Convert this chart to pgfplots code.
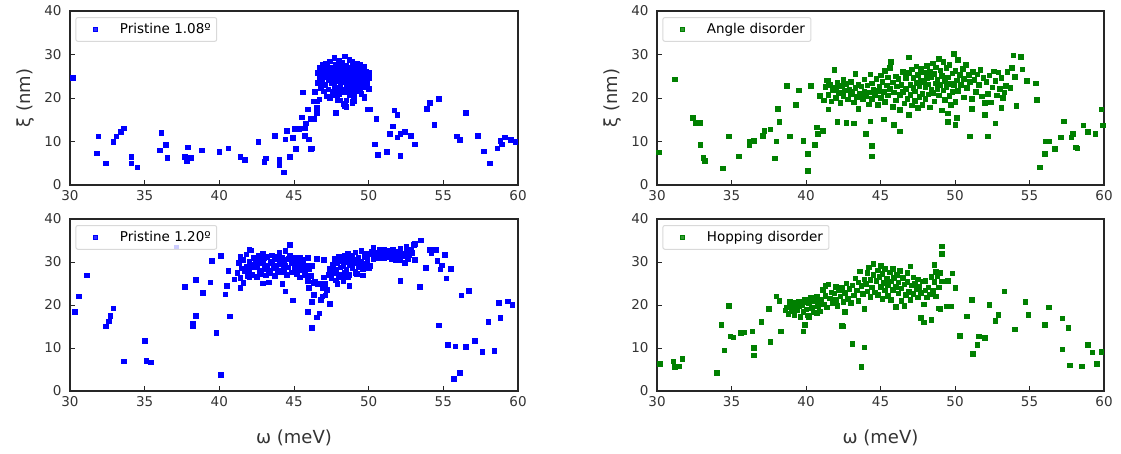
\documentclass[border=0pt]{standalone}
\usepackage{fontspec}
\setmainfont{DejaVu Sans}
\usepackage{pgfplots}
\usepackage{pgfplotstable}
\pgfplotsset{compat=1.18}
\definecolor{mblue}{RGB}{0,0,255}
\definecolor{mgreen}{RGB}{0,128,0}

\pgfplotstableread[row sep=\\]{x y\\
30.2 24.6\\ 31.8 7.3\\ 31.9 11.2\\ 32.4 5.0\\ 32.9 10.0\\ 33.1 11.2\\ 33.4 12.2\\ 33.6 13.1\\ 34.1 6.5\\ 34.1 5.0\\
34.5 4.1\\ 36.0 8.0\\ 36.1 12.0\\ 36.4 9.2\\ 36.5 6.3\\ 37.7 6.5\\ 37.8 5.6\\ 37.9 8.7\\ 38.1 6.3\\ 38.8 8.0\\
40.0 7.6\\ 40.6 8.5\\ 41.4 6.5\\ 41.7 5.8\\ 42.6 10.0\\ 43.0 5.3\\ 43.1 6.2\\ 43.7 11.4\\ 44.0 5.8\\ 44.0 4.6\\
44.3 2.9\\ 44.4 10.5\\ 44.5 12.5\\ 44.7 6.5\\ 44.9 10.9\\ 45.0 12.9\\ 45.1 8.3\\ 45.3 12.9\\ 45.5 15.6\\ 45.6 21.3\\
45.7 11.4\\ 45.7 13.1\\ 45.8 14.2\\ 45.9 17.4\\ 46.0 10.5\\ 46.1 8.4\\ 46.1 15.3\\ 46.2 8.5\\ 46.3 15.2\\ 46.3 19.3\\
46.4 21.5\\ 46.5 19.3\\ 46.5 17.8\\ 46.5 16.6\\ 46.7 19.7\\ 47.8 16.6\\ 48.1 19.5\\ 48.4 18.2\\ 48.5 19.5\\ 48.9 18.9\\
49.7 20.1\\ 49.9 17.4\\ 50.1 17.4\\ 50.4 9.4\\ 50.5 15.2\\ 50.6 7.0\\ 51.2 7.6\\ 51.4 11.8\\ 51.6 13.5\\ 51.7 17.2\\
51.9 16.1\\ 51.9 11.0\\ 52.1 11.8\\ 52.1 6.8\\ 52.4 12.2\\ 52.8 11.4\\ 53.1 9.4\\ 53.9 17.6\\ 54.1 18.9\\ 54.4 13.9\\
54.7 19.9\\ 55.9 11.2\\ 56.1 10.4\\ 56.5 16.6\\ 57.3 11.4\\ 57.7 7.8\\ 58.1 5.0\\ 58.6 8.5\\ 58.8 10.2\\ 58.9 9.4\\
59.1 11.0\\ 59.5 10.4\\ 59.8 10.0\\
46.6 25.8\\ 46.6 23.5\\ 46.7 24.6\\ 46.7 26.9\\ 46.8 22.4\\ 46.8 25.2\\ 46.9 27.6\\ 46.9 23.8\\ 47.0 24.9\\ 47.0 21.6\\
47.0 26.3\\ 47.1 28.0\\ 47.1 23.1\\ 47.2 25.5\\ 47.2 20.4\\ 47.2 27.2\\ 47.3 24.2\\ 47.3 22.0\\ 47.4 26.0\\ 47.4 28.5\\
47.4 20.1\\ 47.5 23.4\\ 47.5 25.1\\ 47.5 27.0\\ 47.6 21.5\\ 47.6 24.5\\ 47.6 26.6\\ 47.7 29.3\\ 47.7 22.8\\ 47.7 25.8\\
47.8 23.9\\ 47.8 27.7\\ 47.8 20.6\\ 47.9 25.0\\ 47.9 22.3\\ 47.9 26.4\\ 48.0 28.6\\ 48.0 24.1\\ 48.0 21.0\\ 48.0 25.7\\
48.1 23.2\\ 48.1 27.1\\ 48.1 26.0\\ 48.2 24.6\\ 48.2 22.0\\ 48.2 28.1\\ 48.3 25.3\\ 48.3 23.6\\ 48.3 26.8\\ 48.4 29.6\\
48.4 21.4\\ 48.4 24.9\\ 48.5 27.5\\ 48.5 23.0\\ 48.5 25.9\\ 48.6 22.4\\ 48.6 24.3\\ 48.6 26.5\\ 48.7 28.8\\ 48.7 20.8\\
48.7 25.4\\ 48.8 23.7\\ 48.8 27.0\\ 48.8 21.9\\ 48.9 24.8\\ 48.9 26.2\\ 48.9 28.3\\ 49.0 22.6\\ 49.0 25.6\\ 49.0 20.5\\
49.1 23.9\\ 49.1 27.4\\ 49.1 24.6\\ 49.2 26.0\\ 49.2 21.7\\ 49.2 28.0\\ 49.3 23.3\\ 49.3 25.2\\ 49.3 26.8\\ 49.4 22.1\\
49.4 24.5\\ 49.4 27.7\\ 49.5 23.6\\ 49.5 25.9\\ 49.5 21.0\\ 49.6 24.9\\ 49.6 26.6\\ 49.6 22.7\\ 49.7 25.4\\ 49.7 23.9\\
49.7 27.2\\ 49.8 24.2\\ 49.8 22.5\\ 49.8 26.0\\ 49.9 25.0\\ 49.9 23.3\\ 50.0 24.6\\ 50.0 22.1\\ 50.0 25.8\\ 49.7 20.3\\
48.3 18.7\\ 48.5 18.0\\ 49.0 19.4\\ 47.9 19.6\\ 48.9 19.2\\
}\tA

\pgfplotstableread[row sep=\\]{x y\\
30.3 18.5\\ 30.6 22.0\\ 31.1 26.9\\ 32.4 15.1\\ 32.6 16.2\\ 32.7 17.5\\ 32.9 19.3\\ 33.6 6.9\\ 35.0 11.7\\ 35.1 7.0\\
35.4 6.7\\ 37.1 33.4\\ 37.7 24.2\\ 38.2 15.1\\ 38.2 15.7\\ 38.4 17.5\\ 38.4 25.9\\ 38.9 22.9\\ 39.4 25.3\\ 39.5 30.3\\
39.8 13.6\\ 40.1 31.4\\ 40.1 3.8\\ 40.4 22.5\\ 40.5 24.5\\ 40.6 28.0\\ 40.7 17.4\\ 41.0 26.0\\ 41.4 24.0\\ 42.0 26.5\\
42.9 25.1\\ 43.3 25.3\\ 44.2 25.0\\ 44.4 23.2\\ 44.9 21.1\\ 44.7 34.0\\ 42.0 33.0\\ 45.9 18.5\\ 46.2 14.7\\ 46.2 20.8\\
46.3 22.4\\ 46.5 17.2\\ 46.7 18.1\\ 46.8 21.2\\ 46.9 22.0\\ 47.1 22.3\\ 47.4 20.3\\ 46.5 30.7\\ 47.0 30.5\\ 48.7 24.5\\
49.1 27.4\\ 52.1 25.7\\ 53.4 24.2\\ 53.5 35.1\\ 53.1 34.3\\ 53.8 28.7\\ 54.1 32.8\\ 54.2 32.0\\ 54.5 32.8\\ 54.6 30.3\\
54.7 15.3\\ 54.8 28.3\\ 54.9 29.3\\ 55.1 31.7\\ 55.2 26.2\\ 55.3 10.7\\ 55.5 28.4\\ 55.7 2.9\\ 55.8 10.4\\ 56.1 4.2\\
56.2 22.3\\ 56.5 10.3\\ 56.7 23.3\\ 57.1 11.7\\ 57.6 9.2\\ 58.0 16.1\\ 58.4 9.4\\ 58.7 20.6\\ 58.8 17.1\\ 59.3 20.9\\
59.6 20.1\\
41.2 27.5\\ 41.3 29.8\\ 41.4 31.2\\ 41.4 26.3\\ 41.5 28.6\\ 41.6 30.5\\ 41.6 25.2\\ 41.7 27.9\\ 41.8 31.8\\ 41.8 29.0\\
41.9 26.8\\ 42.0 30.1\\ 42.0 28.2\\ 42.1 32.7\\ 42.1 29.5\\ 42.2 27.0\\ 42.3 31.0\\ 42.3 28.8\\ 42.4 30.3\\ 42.5 26.6\\
42.5 29.2\\ 42.6 31.5\\ 42.7 28.0\\ 42.7 30.6\\ 42.8 27.3\\ 42.9 29.7\\ 42.9 31.9\\ 43.0 28.5\\ 43.0 30.9\\ 43.1 26.9\\
43.2 29.3\\ 43.2 31.3\\ 43.3 28.1\\ 43.4 30.2\\ 43.4 27.4\\ 43.5 29.8\\ 43.5 31.6\\ 43.6 28.6\\ 43.7 30.7\\ 43.7 26.8\\
43.8 29.1\\ 43.9 31.2\\ 43.9 28.0\\ 44.0 30.0\\ 44.0 32.1\\ 44.1 27.7\\ 44.1 29.6\\ 44.2 31.0\\ 44.3 28.4\\ 44.3 30.5\\
44.4 32.6\\ 44.4 29.3\\ 44.5 27.1\\ 44.6 30.8\\ 44.6 28.8\\ 44.7 31.6\\ 44.8 29.9\\ 44.8 27.6\\ 44.9 30.4\\ 45.0 28.5\\
45.0 31.0\\ 45.1 29.4\\ 45.2 27.3\\ 45.2 30.2\\ 45.3 28.7\\ 45.4 31.1\\ 45.4 26.5\\ 45.5 29.6\\ 45.6 28.2\\ 45.6 30.6\\
45.7 27.0\\ 45.8 29.3\\ 45.9 31.0\\ 45.9 25.6\\ 46.0 28.5\\ 46.1 26.8\\ 46.2 29.2\\ 46.3 25.2\\ 46.0 24.0\\ 46.4 25.4\\
46.6 24.8\\ 46.8 25.0\\ 46.9 24.0\\ 47.0 26.5\\ 47.1 25.0\\ 47.2 23.5\\
47.3 27.0\\ 47.4 28.5\\ 47.5 26.2\\ 47.6 29.5\\ 47.6 27.5\\ 47.7 30.8\\ 47.8 28.2\\ 47.8 25.8\\ 47.9 29.8\\ 48.0 27.0\\
48.0 31.2\\ 48.1 28.8\\ 48.2 26.6\\ 48.2 30.2\\ 48.3 29.0\\ 48.4 31.5\\ 48.4 27.6\\ 48.5 30.0\\ 48.5 28.3\\ 48.6 32.0\\
48.7 29.4\\ 48.7 27.0\\ 48.8 30.7\\ 48.9 28.6\\ 48.9 31.4\\ 49.0 29.8\\ 49.1 27.9\\ 49.1 32.3\\ 49.2 30.5\\ 49.3 28.8\\
49.3 31.0\\ 49.4 29.5\\ 49.5 32.6\\ 49.5 30.2\\ 49.6 28.4\\ 49.7 31.3\\ 49.8 29.7\\ 49.8 32.0\\ 49.9 30.6\\ 50.0 28.6\\
50.0 31.8\\ 50.1 29.2\\ 50.2 32.4\\ 50.3 30.8\\ 50.3 33.4\\ 50.4 31.5\\ 50.5 32.2\\ 50.6 31.0\\ 50.7 32.8\\ 50.8 31.6\\
50.9 32.3\\ 51.0 30.9\\ 51.0 33.0\\ 51.1 31.9\\ 51.2 32.6\\ 51.3 31.3\\ 51.4 32.1\\ 51.5 30.8\\ 51.6 32.9\\ 51.7 31.6\\
51.8 30.5\\ 51.9 32.4\\ 52.0 31.2\\ 52.1 33.1\\ 52.1 30.4\\ 52.2 32.0\\ 52.3 31.4\\ 52.4 29.8\\ 52.5 33.6\\ 52.5 32.5\\
52.6 30.8\\ 52.7 31.7\\ 52.8 33.0\\ 52.9 32.2\\ 53.0 34.0\\ 53.1 30.6\\ 48.6 26.5\\ 49.2 27.3\\ 49.6 26.9\\ 48.3 25.5\\
47.9 24.9\\
}\tB

\pgfplotstableread[row sep=\\]{x y\\
30.1 7.5\\ 31.2 24.3\\ 32.4 15.5\\ 32.6 14.3\\ 32.9 14.3\\ 32.9 9.3\\ 33.1 6.3\\ 33.2 5.6\\ 34.4 3.9\\ 34.8 11.2\\
35.5 6.6\\ 36.2 9.3\\ 36.2 9.9\\ 36.5 10.2\\ 37.1 11.4\\ 37.2 12.5\\ 37.6 12.8\\ 37.9 6.2\\ 38.0 10.1\\ 38.1 17.6\\
38.2 14.5\\ 38.7 22.8\\ 38.9 11.2\\ 39.3 18.4\\ 39.5 21.8\\ 39.8 10.2\\ 40.1 7.2\\ 40.1 3.3\\ 40.3 22.8\\ 40.6 9.3\\
40.7 13.3\\ 40.8 11.8\\ 40.9 20.5\\ 41.1 12.5\\ 41.5 17.4\\ 41.5 24.0\\ 42.1 14.5\\ 42.7 14.3\\ 43.2 14.2\\ 44.0 11.8\\
44.4 9.1\\ 44.4 6.6\\ 44.3 14.7\\ 45.2 15.1\\ 45.9 13.8\\ 46.3 12.4\\ 46.9 29.4\\ 49.9 30.2\\ 50.0 13.9\\ 50.1 15.5\\
49.5 14.5\\ 51.0 11.2\\ 51.1 17.6\\ 52.0 16.2\\ 52.2 11.2\\ 52.7 14.2\\ 53.1 17.8\\ 53.2 20.1\\ 53.9 29.8\\ 54.4 29.5\\
54.1 18.2\\ 54.5 26.6\\ 54.8 24.0\\ 55.4 23.4\\ 55.5 19.6\\ 55.7 4.1\\ 56.0 7.2\\ 56.1 10.1\\ 56.3 10.1\\ 56.7 8.3\\
57.3 14.7\\ 57.1 11.0\\ 57.8 11.0\\ 57.9 11.8\\ 58.1 8.7\\ 58.2 8.5\\ 58.6 13.7\\ 58.9 12.2\\ 59.4 11.8\\ 59.8 17.4\\
59.9 13.7\\
41.2 19.5\\ 41.3 22.6\\ 41.4 24.1\\ 41.5 20.8\\ 41.6 23.0\\ 41.7 19.3\\ 41.8 21.9\\ 41.9 26.5\\ 42.0 22.3\\ 42.0 20.0\\
42.1 23.5\\ 42.2 21.2\\ 42.3 18.9\\ 42.4 22.8\\ 42.5 24.2\\ 42.5 20.5\\ 42.6 21.8\\ 42.7 23.3\\ 42.8 19.7\\ 42.9 22.0\\
43.0 20.9\\ 43.0 23.8\\ 43.1 21.5\\ 43.2 19.0\\ 43.3 25.6\\ 43.3 22.4\\ 43.4 20.3\\ 43.5 17.5\\ 43.5 23.0\\ 43.6 21.1\\
43.7 22.7\\ 43.8 19.8\\ 43.9 24.3\\ 43.9 21.6\\ 44.0 20.4\\ 44.1 22.9\\ 44.2 18.6\\ 44.2 21.3\\ 44.3 25.5\\ 44.4 23.4\\
44.4 19.9\\ 44.5 22.0\\ 44.6 20.8\\ 44.7 24.4\\ 44.8 21.7\\ 44.8 18.5\\ 44.9 22.6\\ 45.0 25.2\\ 45.0 20.1\\ 45.1 23.7\\
45.2 21.4\\ 45.3 19.2\\ 45.3 26.3\\ 45.4 22.9\\ 45.5 24.8\\ 45.5 20.6\\ 45.6 27.0\\ 45.6 22.1\\ 45.7 28.3\\ 45.8 23.6\\
45.8 18.0\\ 45.9 21.3\\ 46.0 25.0\\ 46.0 19.5\\ 46.1 22.7\\ 46.2 24.4\\ 46.3 20.7\\ 46.3 17.3\\ 46.4 23.1\\ 46.5 26.0\\
46.5 21.5\\ 46.6 18.8\\ 46.7 24.6\\ 46.7 22.2\\ 46.8 19.9\\ 46.9 25.8\\ 46.9 16.2\\ 47.0 23.0\\ 47.0 20.8\\ 47.1 26.6\\
47.1 18.3\\ 47.2 22.4\\ 47.2 24.7\\ 47.3 19.4\\ 47.3 21.6\\ 47.4 27.3\\ 47.4 23.5\\ 47.5 17.7\\ 47.5 25.4\\ 47.6 20.3\\
47.6 22.8\\ 47.7 24.1\\ 47.7 26.8\\ 47.8 21.0\\ 47.8 18.5\\ 47.9 23.7\\ 47.9 25.9\\ 48.0 19.8\\ 48.0 22.5\\ 48.1 27.4\\
48.1 24.6\\ 48.2 20.9\\ 48.2 23.2\\ 48.3 26.1\\ 48.3 17.9\\ 48.4 22.0\\ 48.4 24.9\\ 48.5 28.0\\ 48.5 21.2\\ 48.6 25.6\\
48.6 19.3\\ 48.7 23.4\\ 48.7 27.1\\ 48.8 22.2\\ 48.8 24.3\\ 48.9 29.0\\ 48.9 20.6\\ 49.0 26.4\\ 49.0 23.0\\ 49.1 17.2\\
49.1 25.1\\ 49.2 21.8\\ 49.2 28.4\\ 49.3 24.0\\ 49.3 19.6\\ 49.4 26.9\\ 49.4 22.6\\ 49.5 16.5\\ 49.5 24.8\\ 49.6 20.5\\
49.6 27.6\\ 49.7 23.3\\ 49.7 18.4\\ 49.8 25.7\\ 49.8 21.4\\ 49.9 22.9\\ 50.0 26.3\\ 50.0 19.2\\ 50.1 24.1\\ 50.2 28.8\\
50.2 21.7\\ 50.3 25.3\\ 50.4 23.0\\ 50.5 26.8\\ 50.6 20.2\\ 50.6 24.5\\ 50.7 27.6\\ 50.8 22.3\\ 50.9 25.4\\ 51.0 23.7\\
51.1 19.8\\ 51.2 26.0\\ 51.3 24.2\\ 51.4 21.5\\ 51.5 25.5\\ 51.6 23.1\\ 51.7 26.5\\ 51.8 20.4\\ 51.9 24.6\\ 52.0 18.9\\
52.1 23.8\\ 52.2 21.0\\ 52.3 25.2\\ 52.4 19.0\\ 52.5 22.5\\ 52.6 26.2\\ 52.7 24.0\\ 52.8 20.6\\ 52.9 25.9\\ 53.0 22.2\\
53.1 24.7\\ 53.3 21.3\\ 53.4 22.8\\ 53.5 26.0\\ 53.7 22.4\\ 53.8 27.0\\ 54.0 24.9\\
}\tC

\pgfplotstableread[row sep=\\]{x y\\
30.2 6.3\\ 31.1 6.9\\ 31.2 5.6\\ 31.5 5.8\\ 31.7 7.5\\ 34.0 4.2\\ 34.3 15.4\\ 34.5 9.5\\ 34.8 19.8\\ 34.9 12.7\\
35.1 12.5\\ 35.6 13.5\\ 35.8 13.7\\ 36.4 13.9\\ 36.5 8.3\\ 36.5 10.0\\ 37.0 16.1\\ 37.5 19.1\\ 37.6 11.4\\ 38.0 22.0\\
38.2 21.0\\ 38.3 13.9\\ 39.8 13.9\\ 39.9 15.4\\ 40.2 17.2\\ 42.4 15.2\\ 42.5 15.1\\ 43.1 11.0\\ 43.7 5.6\\ 43.9 10.2\\
42.6 18.5\\ 49.1 33.7\\ 49.1 31.9\\ 47.7 17.0\\ 47.9 16.0\\ 48.4 16.6\\ 48.9 19.3\\ 49.5 25.6\\ 49.4 19.7\\ 49.7 19.7\\
49.8 27.4\\ 50.0 24.0\\ 50.3 12.9\\ 50.8 17.4\\ 51.1 21.2\\ 51.2 8.7\\ 51.5 10.7\\ 51.6 12.7\\ 52.0 12.4\\ 52.3 20.0\\
52.7 16.3\\ 52.9 17.8\\ 53.3 23.2\\ 54.0 14.4\\ 54.7 20.8\\ 54.9 17.8\\ 56.0 15.4\\ 56.3 19.5\\ 57.2 16.9\\ 57.2 9.7\\
57.6 14.7\\ 57.7 6.0\\ 58.5 5.8\\ 58.9 10.7\\ 59.2 9.0\\ 59.5 6.3\\ 59.8 9.2\\
38.6 18.8\\ 38.7 19.5\\ 38.8 18.0\\ 38.9 20.3\\ 39.0 18.6\\ 39.1 19.2\\ 39.2 17.8\\ 39.3 20.6\\ 39.4 18.9\\ 39.5 19.7\\
39.6 17.3\\ 39.7 20.1\\ 39.8 18.4\\ 39.9 21.3\\ 40.0 19.0\\ 40.1 17.6\\ 40.2 20.5\\ 40.3 21.8\\ 40.4 19.4\\ 40.5 18.3\\
40.6 20.9\\ 40.7 22.0\\ 40.8 19.8\\ 40.9 18.6\\ 41.0 21.2\\ 41.1 23.5\\ 41.2 20.2\\ 41.3 24.5\\ 41.3 22.1\\ 41.4 19.5\\
41.5 24.8\\ 41.6 21.6\\ 41.7 23.0\\ 41.8 20.4\\ 41.9 22.7\\ 42.0 24.3\\ 42.0 21.2\\ 42.1 19.9\\ 42.2 23.6\\ 42.3 22.0\\
42.4 24.0\\ 42.5 20.8\\ 42.6 22.9\\ 42.7 25.1\\ 42.8 21.5\\ 42.9 23.8\\ 43.0 20.5\\ 43.1 24.6\\ 43.2 22.3\\ 43.3 26.2\\
43.4 23.4\\ 43.5 25.3\\ 43.5 21.0\\ 43.6 27.9\\ 43.7 24.5\\ 43.8 22.6\\ 43.9 26.0\\ 43.9 19.1\\ 44.0 25.0\\ 44.1 27.5\\
44.1 23.2\\ 44.2 28.8\\ 44.3 25.9\\ 44.3 21.9\\ 44.4 24.1\\ 44.5 27.0\\ 44.5 29.6\\ 44.6 23.0\\ 44.7 25.6\\ 44.8 28.1\\
44.8 22.4\\ 44.9 26.6\\ 45.0 24.3\\ 45.0 29.1\\ 45.1 21.5\\ 45.1 27.3\\ 45.2 25.2\\ 45.3 23.4\\ 45.3 28.5\\ 45.4 26.1\\
45.5 22.1\\ 45.5 24.7\\ 45.6 27.6\\ 45.7 25.5\\ 45.7 21.2\\ 45.8 28.4\\ 45.8 23.6\\ 45.9 26.4\\ 46.0 24.2\\ 46.0 19.6\\
46.1 27.0\\ 46.2 22.7\\ 46.2 25.3\\ 46.3 28.0\\ 46.4 23.9\\ 46.4 21.0\\ 46.5 26.3\\ 46.6 24.8\\ 46.6 19.9\\ 46.7 22.4\\
46.8 27.5\\ 46.8 25.4\\ 46.9 23.1\\ 47.0 29.0\\ 47.0 21.3\\ 47.1 24.6\\ 47.2 26.5\\ 47.2 22.6\\ 47.3 25.0\\ 47.4 23.7\\
47.5 21.8\\ 47.5 26.0\\ 47.6 24.3\\ 47.7 22.9\\ 47.8 25.5\\ 47.9 20.2\\ 48.0 23.4\\ 48.0 25.6\\ 48.1 21.8\\ 48.2 24.1\\
48.3 22.5\\ 48.4 26.6\\ 48.5 23.3\\ 48.6 29.4\\ 48.6 25.4\\ 48.7 27.8\\ 48.7 22.0\\ 48.8 26.8\\ 48.9 24.1\\ 49.0 27.5\\
49.0 19.2\\ 49.1 25.5\\ 38.9 20.9\\ 39.5 20.8\\ 40.0 20.7\\ 40.7 18.1\\
}\tD

\pgfplotsset{
 panel/.style={
  scale only axis, width=448pt,
  xmin=30,xmax=60,ymin=0,ymax=40,
  xtick={30,35,40,45,50,55,60}, ytick={0,10,20,30,40},
  tick align=inside, tick pos=left,
  major tick length=5pt,
  tick style={black!85,line width=0.8pt},
  axis line style={black!85,line width=1.1pt},
  /pgf/number format/assume math mode=true,
  ticklabel style={font=\fontsize{13.5}{15}\selectfont, text=black!80},
  xticklabel style={yshift=-2pt},
  yticklabel style={xshift=-5pt},
  label style={font=\fontsize{18}{20}\selectfont, text=black!80},
  ylabel style={at={(axis description cs:-0.1,0.5)},anchor=center},
  xlabel style={at={(axis description cs:0.5,-0.27)},anchor=center},
  legend style={at={(0.012,0.965)},anchor=north west, draw=black!15, line width=1pt,
    rounded corners=2pt, fill=white, fill opacity=0.8, text opacity=1,
    font=\fontsize{13.5}{15}\selectfont, inner xsep=4pt, inner ysep=4pt},
  legend cell align=left,
  legend image code/.code={%
    \path (0pt,0pt) (37pt,0pt);
    \draw[#1,mark size=1.8pt] plot coordinates {(15pt,0pt)};},
 },
 bmk/.style={only marks, mark=square*, mark size=2.3pt, color=mblue},
 gmk/.style={only marks, mark=square*, mark size=2.3pt, color=mgreen},
}

\begin{document}
\begin{tikzpicture}[x=1pt,y=1pt]
\useasboundingbox (0,0) rectangle (1121,454);
\begin{axis}[panel, height=174pt, at={(70pt,269pt)}, anchor=south west, ylabel={ξ (nm)}]
\addplot[bmk] table {\tA};
\addlegendentry{Pristine 1.08º}
\end{axis}
\begin{axis}[panel, height=172pt, at={(70pt,63pt)}, anchor=south west, xlabel={ω (meV)}]
\addplot[bmk] table {\tB};
\addlegendentry{Pristine 1.20º}
\end{axis}
\begin{axis}[panel, width=447pt, height=174pt, at={(657pt,269pt)}, anchor=south west, ylabel={ξ (nm)}]
\addplot[gmk] table {\tC};
\addlegendentry{Angle disorder}
\end{axis}
\begin{axis}[panel, width=447pt, height=172pt, at={(657pt,63pt)}, anchor=south west, xlabel={ω (meV)}]
\addplot[gmk] table {\tD};
\addlegendentry{Hopping disorder}
\end{axis}
\end{tikzpicture}
\end{document}
